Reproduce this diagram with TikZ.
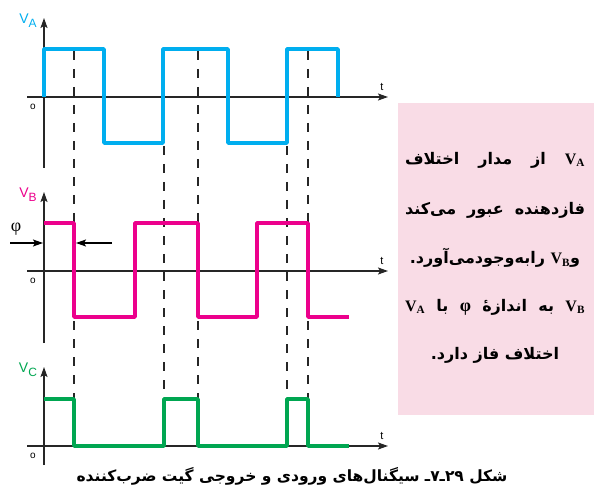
\documentclass[tikz,border=0pt]{standalone}
\usepackage{fontspec}
\setmainfont{Liberation Sans}
\newfontfamily\farsi[Script=Arabic]{DejaVu Sans}
\newfontfamily\lserif{Liberation Serif}
\TeXXeTstate=1
\usetikzlibrary{arrows.meta}
\definecolor{sigA}{HTML}{00AEEF}
\definecolor{sigB}{HTML}{EC008C}
\definecolor{sigC}{HTML}{00A651}
\definecolor{notepink}{HTML}{F9DCE6}
\newcommand{\vsub}[1]{\beginL{\lserif\bfseries V\textsubscript{#1}}\endL}
\newcommand{\spread}[1]{\makebox[180pt][s]{\beginR #1\endR}}

\begin{document}
\begin{tikzpicture}[x=1pt, y=-1pt, >={Stealth[length=10pt,width=7pt,inset=2pt]},
    axis/.style={draw=black!85, line width=1.4pt, ->},
    wave/.style={line width=3.6pt, line join=round},
    guide/.style={draw=black!85, line width=1.6pt, dash pattern=on 9pt off 9pt},
    sig/.style={font=\fontsize{14}{14}\selectfont, inner sep=0pt},
    small/.style={font=\fontsize{11}{11}\selectfont, inner sep=0pt},
    note/.style={font=\farsi\bfseries\fontsize{16}{16}\selectfont, inner sep=0pt}]
  \useasboundingbox (0,0) rectangle (594,486);

  % axes of the three traces
  \foreach \n/\base/\top/\bot in {a/97/18/168, b/271/192/343, c/446/367/465} {
    \coordinate (\n0) at (44,\bot);
    \coordinate (\n1) at (44,\top);
    \coordinate (\n2) at (27,\base);
    \coordinate (\n3) at (388,\base);
    \draw[axis] (\n0) -- (\n1);
    \draw[axis] (\n2) -- (\n3);
    \node[small] (\n t) at (382,\base-10) {t};
    \node[small, font=\fontsize{10}{10}\selectfont] (\n z) at (33,\base+10) {o};
  }
  \node[sig, text=sigA] (la) at (28,21) {V\raisebox{-4pt}{\fontsize{12}{12}\selectfont A}};
  \node[sig, text=sigB] (lb) at (28,195) {V\raisebox{-4pt}{\fontsize{12}{12}\selectfont B}};
  \node[sig, text=sigC] (lc) at (28,370) {V\raisebox{-4pt}{\fontsize{12}{12}\selectfont C}};

  % guide lines
  \foreach \x/\y in {74/51, 164/146, 198/51, 287/146, 308/51}
    \draw[guide] (\x,\y) -- (\x,398);

  % waveforms
  \draw[wave, sigA] (44,97) -- (44,49) -- (104,49) -- (104,143) -- (163,143) -- (163,49)
    -- (228,49) -- (228,143) -- (287,143) -- (287,49) -- (338,49) -- (338,97);
  \draw[wave, sigB] (44,223) -- (74,223) -- (74,317) -- (135,317) -- (135,223) -- (198,223)
    -- (198,317) -- (257,317) -- (257,223) -- (308,223) -- (308,317) -- (349,317);
  \draw[wave, sigC] (44,399) -- (74,399) -- (74,446) -- (164,446) -- (164,399) -- (198,399)
    -- (198,446) -- (287,446) -- (287,399) -- (308,399) -- (308,446) -- (349,446);

  % phase shift
  \node[font=\lserif\fontsize{18}{18}\selectfont, inner sep=0pt] (phi) at (16,229) {φ};
  \coordinate (p1) at (10,243);
  \coordinate (p2) at (43,243);
  \coordinate (p3) at (112,243);
  \coordinate (p4) at (76,243);
  \draw[->, line width=1.2pt] (p1) -- (p2);
  \draw[->, line width=1.2pt] (p3) -- (p4);

  % note
  \fill[notepink] (398,103) rectangle (594,415);
  \node[note] (n1) at (495,160) {\spread{\vsub{A} از مدار اختلاف}};
  \node[note] (n2) at (495,210) {\spread{فازدهنده عبور می^^^^200cکند}};
  \node[note] (n3) at (495,258) {\beginR و\vsub{B} رابه^^^^200cوجودمی^^^^200cآورد.\endR};
  \node[note] (n4) at (495,307) {\spread{\vsub{B} به اندازهٔ \beginL{\lserif\fontsize{18}{18}\selectfont φ}\endL{} با \vsub{A}}};
  \node[note] (n5) at (495,355) {\beginR اختلاف فاز دارد.\endR};

  \node[font=\farsi\bfseries\fontsize{15.5}{15.5}\selectfont, inner sep=0pt] (cap) at (292,476)
    {\beginR شکل \beginL ۲۹\endL ـ۷ـ سیگنال^^^^200cهای ورودی و خروجی گیت ضرب^^^^200cکننده\endR};
\end{tikzpicture}
\end{document}
